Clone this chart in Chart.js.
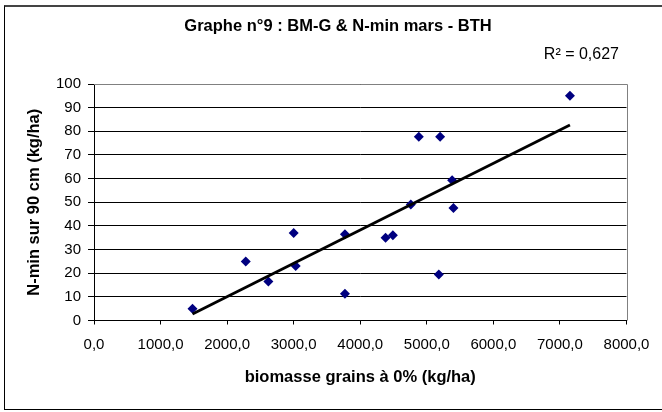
<!DOCTYPE html>
<html>
<head>
<meta charset="utf-8">
<script src="https://cdn.jsdelivr.net/npm/chart.js@4.4.1/dist/chart.umd.min.js"></script>
<style>
    body { margin: 0; overflow: hidden; background: #fff; }
    #cadre {
        position: absolute; left: 4px; top: 5px;
        width: 666px; height: 402px;
        border-left: 1px solid #000; border-top: 2px solid #444;
        border-bottom: 1px solid #000; border-right: 1px solid #000;
    }
    #graphe { display: block; }
</style>
</head>
<body>
<div id="cadre"><canvas id="graphe" width="666" height="402"></canvas></div>
<script>
// Données
const biomasse = [1480, 2280, 2620, 3000, 3030, 3770, 3770, 4380, 4490, 4760, 4880, 5200, 5180, 5380, 5400, 7150];
const nmin = [5, 25, 16.5, 37, 23, 36.5, 11.3, 35, 36, 49, 77.7, 77.7, 19.5, 59.3, 47.6, 95];

const titre = 'Graphe n°9 : BM-G & N-min mars - BTH';
const titreX = 'biomasse grains à 0% (kg/ha)';
const titreY = 'N-min sur 90 cm (kg/ha)';
const texteR2 = 'R² = 0,627';

const POLICE = '"Liberation Sans", Arial, sans-serif';
Chart.defaults.font.family = POLICE;
Chart.defaults.color = '#000';

// Courbe de tendance linéaire (moindres carrés)
function tendance(xs, ys) {
    const n = xs.length;
    const mx = xs.reduce((a, b) => a + b, 0) / n;
    const my = ys.reduce((a, b) => a + b, 0) / n;
    let sxy = 0, sxx = 0;
    xs.forEach((x, i) => { sxy += (x - mx) * (ys[i] - my); sxx += (x - mx) * (x - mx); });
    const pente = sxy / sxx;
    const origine = my - pente * mx;
    const xmin = Math.min(...xs), xmax = Math.max(...xs);
    return [
        { x: xmin, y: origine + pente * xmin },
        { x: xmax, y: origine + pente * xmax }
    ];
}

const points = biomasse.map((x, i) => ({ x: x, y: nmin[i] }));

// Cadre gris haut/droite + texte R²
const decor = {
    id: 'decor',
    beforeDatasetsDraw(chart) {
        const { ctx, chartArea: a } = chart;
        ctx.save();
        ctx.strokeStyle = '#808080';
        ctx.lineWidth = 1;
        ctx.beginPath();
        ctx.moveTo(a.left, Math.round(a.top) + 0.5);
        ctx.lineTo(Math.round(a.right) + 0.5, Math.round(a.top) + 0.5);
        ctx.lineTo(Math.round(a.right) + 0.5, a.bottom);
        ctx.stroke();
        ctx.restore();
    },
    afterDraw(chart) {
        const { ctx, chartArea: a } = chart;
        ctx.save();
        ctx.font = '16px ' + POLICE;
        ctx.fillStyle = '#000';
        ctx.textAlign = 'right';
        ctx.textBaseline = 'middle';
        ctx.fillText(texteR2, a.right - 7.5, a.top - 29.5);
        ctx.restore();
    }
};

new Chart(document.getElementById('graphe').getContext('2d'), {
    type: 'scatter',
    data: {
        datasets: [{
            data: tendance(biomasse, nmin),
            showLine: true,
            borderColor: '#000',
            borderWidth: 2.8,
            pointRadius: 0,
            order: 0
        }, {
            data: points,
            pointStyle: 'rectRot',
            pointRadius: 5,
            pointBackgroundColor: '#000080',
            pointBorderColor: '#000080',
            pointBorderWidth: 0,
            order: 1
        }]
    },
    options: {
        responsive: false,
        animation: false,
        layout: { padding: 0 },
        plugins: {
            legend: { display: false },
            tooltip: { enabled: false },
            title: {
                display: true,
                text: titre,
                color: '#000',
                font: { size: 16.5, weight: 'bold' },
                padding: { top: 10, bottom: 47.2 }
            }
        },
        scales: {
            x: {
                type: 'linear',
                min: 0,
                max: 8000,
                ticks: {
                    stepSize: 1000,
                    autoSkip: false,
                    maxRotation: 0,
                    padding: 11,
                    font: { size: 15 },
                    callback: v => v.toFixed(1).replace('.', ',')
                },
                grid: { drawOnChartArea: false, color: '#000', tickLength: 4 },
                border: { color: '#000' },
                title: {
                    display: true,
                    text: titreX,
                    font: { size: 16.5, weight: 'bold' },
                    padding: { top: 0, bottom: 22 }
                },
                afterFit: s => { s.height = 88.5; s.paddingRight = 44.5; }
            },
            y: {
                min: 0,
                max: 100,
                ticks: { stepSize: 10, padding: 7, font: { size: 15 } },
                grid: { color: '#000', tickLength: 6 },
                border: { color: '#000' },
                title: {
                    display: true,
                    text: titreY,
                    font: { size: 16.5, weight: 'bold' },
                    padding: { top: 20, bottom: 0 }
                },
                afterFit: s => { s.width = 89; }
            }
        }
    },
    plugins: [decor]
});
</script>
</body>
</html>
